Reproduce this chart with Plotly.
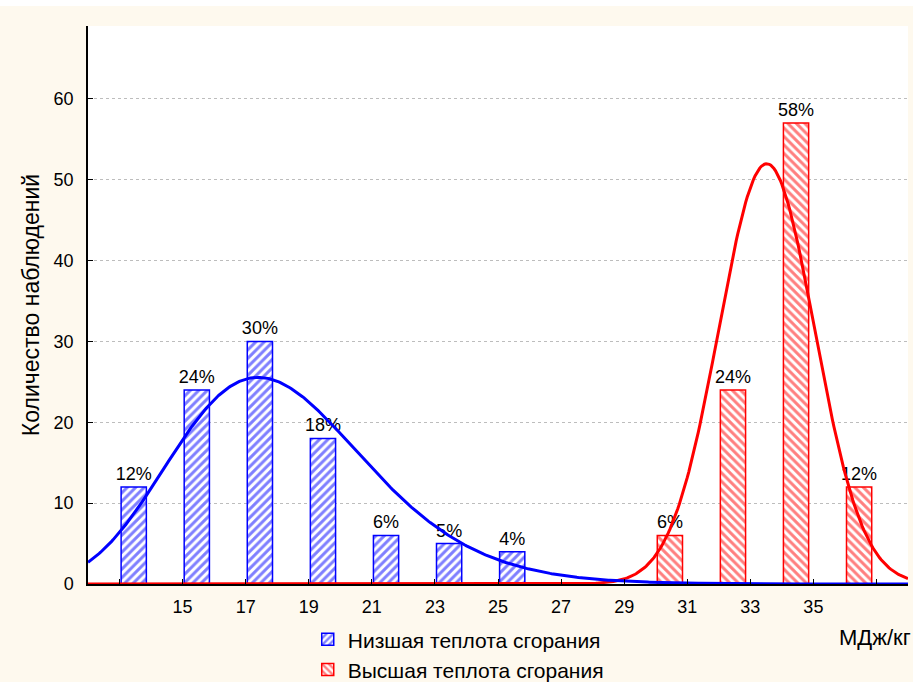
import numpy as np
import plotly.graph_objects as go

# Histogram data: bin centres (MJ/kg) and observation counts
low_bin_centers = [14, 16, 18, 20, 22, 24, 26]
low_counts = [12, 24, 30, 18, 6, 5, 4]

high_bin_centers = [30, 32, 34, 36]
high_counts = [6, 24, 57, 12]

bin_width = 2

# Axis ticks
x_tick_values = [13, 15, 17, 19, 21, 23, 25, 27, 29, 31, 33, 35, 37]
x_tick_labels = ["", "15", "17", "19", "21", "23", "25", "27", "29", "31", "33", "35", ""]
y_tick_values = [0, 10, 20, 30, 40, 50, 60]

# Fitted distributions (lognormal for the lower value, normal for the higher one)
low_log_mu = 2.887
low_log_sigma = 0.175
high_mu = 33.52
high_sigma = 1.52

FONT = "Liberation Sans, Arial, sans-serif"
BLUE = "#0000FF"
RED = "#FF0000"

# Figure geometry (px)
W, H = 913, 682
M_L, M_R, M_T, M_B = 88, 5, 26, 98
PLOT_W = W - M_L - M_R
PLOT_H = H - M_T - M_B


def pct_labels(counts):
    total = sum(counts)
    return [f"{round(100 * c / total)}%" for c in counts]


def lognormal_curve(x, mu, sigma, n, width):
    pdf = np.exp(-(np.log(x) - mu) ** 2 / (2 * sigma ** 2)) / (x * sigma * np.sqrt(2 * np.pi))
    return n * width * pdf


def normal_curve(x, mu, sigma, n, width):
    pdf = np.exp(-(x - mu) ** 2 / (2 * sigma ** 2)) / (sigma * np.sqrt(2 * np.pi))
    return n * width * pdf


x_fit = np.linspace(12, 38, 521)
low_fit = lognormal_curve(x_fit, low_log_mu, low_log_sigma, sum(low_counts), bin_width)
high_fit = normal_curve(x_fit, high_mu, high_sigma, sum(high_counts), bin_width)

fig = go.Figure()

fig.add_trace(go.Bar(
    x=low_bin_centers, y=low_counts,
    offset=-0.95, width=0.8,
    name="Низшая теплота сгорания",
    marker=dict(
        color="white",
        line=dict(color=BLUE, width=1.5),
        pattern=dict(shape="/", fgcolor=BLUE, bgcolor="white", size=6, solidity=0.5),
    ),
    text=pct_labels(low_counts), textposition="outside", constraintext="none",
    textfont=dict(family=FONT, size=18, color="black"),
    cliponaxis=False,
))

fig.add_trace(go.Bar(
    x=high_bin_centers, y=high_counts,
    offset=0.05, width=0.8,
    name="Высшая теплота сгорания",
    marker=dict(
        color="white",
        line=dict(color=RED, width=1.5),
        pattern=dict(shape="\\", fgcolor=RED, bgcolor="white", size=6, solidity=0.5),
    ),
    text=pct_labels(high_counts), textposition="outside", constraintext="none",
    textfont=dict(family=FONT, size=18, color="black"),
    cliponaxis=False,
))

fig.add_trace(go.Scatter(
    x=x_fit, y=high_fit, mode="lines",
    line=dict(color=RED, width=3), showlegend=False, hoverinfo="skip",
))
fig.add_trace(go.Scatter(
    x=x_fit, y=low_fit, mode="lines",
    line=dict(color=BLUE, width=3), showlegend=False, hoverinfo="skip",
))

fig.update_layout(
    width=W, height=H,
    margin=dict(l=M_L, r=M_R, t=M_T, b=M_B, autoexpand=False),
    paper_bgcolor="#FEF9EE",
    plot_bgcolor="white",
    barmode="overlay",
    font=dict(family=FONT, size=18, color="black"),
    legend=dict(
        x=0.268, y=-0.063, xanchor="left", yanchor="top",
        font=dict(family=FONT, size=21, color="black"),
        bgcolor="rgba(0,0,0,0)", tracegroupgap=0,
    ),
    xaxis=dict(
        range=[12, 38],
        tickvals=x_tick_values, ticktext=x_tick_labels,
        ticks="inside", ticklen=5, tickcolor="black",
        showline=True, linecolor="black", linewidth=2,
        showgrid=False, zeroline=False,
        tickfont=dict(family=FONT, size=18, color="black"),
        ticklabelstandoff=5,
    ),
    yaxis=dict(
        range=[0, 69],
        tickvals=y_tick_values,
        ticks="inside", ticklen=5, tickcolor="black",
        showline=True, linecolor="black", linewidth=1.5,
        showgrid=True, gridcolor="#BDBDBD", griddash="dot", gridwidth=1,
        zeroline=False,
        tickfont=dict(family=FONT, size=18, color="black"),
        ticklabelstandoff=9,
        title=dict(text="Количество наблюдений", font=dict(family=FONT, size=23, color="black"), standoff=8),
    ),
    shapes=[
        # thin white strip along the top edge of the page
        dict(
            type="rect", xref="paper", yref="paper", layer="below",
            x0=-M_L / PLOT_W, x1=1 + M_R / PLOT_W,
            y0=1 + (M_T - 6) / PLOT_H, y1=1 + M_T / PLOT_H,
            fillcolor="white", line=dict(width=0),
        )
    ],
    annotations=[
        dict(
            text="МДж/кг", xref="paper", yref="paper",
            x=1.006, y=-0.095, xanchor="right", yanchor="middle",
            showarrow=False, font=dict(family=FONT, size=22, color="black"),
        )
    ],
)

fig.write_html("out.html")
